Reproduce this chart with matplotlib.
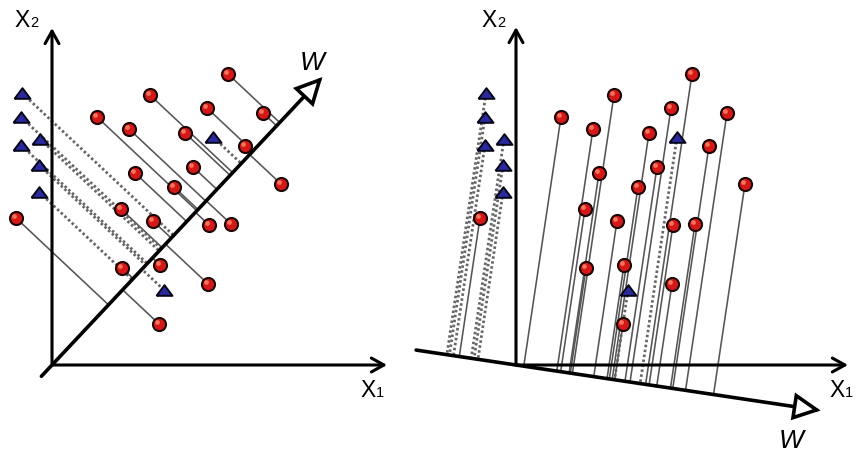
import numpy as np
import matplotlib
matplotlib.use("Agg")
import matplotlib.pyplot as plt
from matplotlib.patches import FancyArrowPatch, ArrowStyle
from matplotlib.transforms import ScaledTranslation

plt.rcParams["font.family"] = ["Liberation Sans", "DejaVu Sans"]

# Class 1 samples (red circles), coordinates (x1, x2)
circle_x1 = [-3.6, 4.5, 7.7, 9.8, 17.6, 15.5, 21.1, 13.3, 19.3, 14.1, 8.3,
             12.2, 22.9, 6.9, 10.1, 15.7, 17.9, 7.0, 10.8, 15.6, 10.7]
circle_x2 = [14.7, 24.8, 23.6, 27.0, 29.1, 25.7, 25.2, 23.2, 21.9, 19.8, 19.2,
             17.8, 18.1, 15.6, 14.4, 14.0, 14.1, 9.7, 10.0, 8.1, 4.1]

# Class 2 samples (blue triangles)
tri_x1 = [-3.0, -3.1, -3.1, -1.2, -1.3, -1.3, 11.2, 16.1]
tri_x2 = [27.2, 24.8, 22.0, 22.6, 20.0, 17.3, 7.5, 22.8]

# Projection directions W (degrees from the x1 axis)
w_angle_good = 46.8
w_angle_bad = -8.5

fig = plt.figure(figsize=(8.56, 4.54), dpi=100)
axL = fig.add_axes([0.0, 0.0, 0.5, 1.0])
axR = fig.add_axes([0.5, 0.0, 0.5, 1.0])
axL.set_xlim(-5.2, 37.6)
axL.set_ylim(-8.9, 36.5)
axR.set_xlim(-8.8, 34.0)
axR.set_ylim(-8.9, 36.5)
for ax in (axL, axR):
    ax.axis("off")

tri_marker = [(-1.5, -1.0), (1.5, -1.0), (0.0, 1.0), (-1.5, -1.0)]


def draw_panel(ax, angle, w_from, w_to, x1_end, x2_end):
    a = np.deg2rad(angle)
    u = np.array([np.cos(a), np.sin(a)])

    # perpendicular projections onto W
    for x, y in zip(circle_x1, circle_x2):
        t = x * u[0] + y * u[1]
        ax.plot([x, t * u[0]], [y, t * u[1]], color="#555555", lw=1.15,
                zorder=1, solid_capstyle="butt")
    for x, y in zip(tri_x1, tri_x2):
        t = x * u[0] + y * u[1]
        ax.plot([x, t * u[0]], [y, t * u[1]], color="#666666", lw=2.0,
                linestyle=(0, (0.9, 0.9)), zorder=1)

    # coordinate axes
    axis_style = ArrowStyle("->", head_length=9, head_width=5)
    for end in [(0, x2_end), (x1_end, 0)]:
        ax.add_patch(FancyArrowPatch((0, 0), end, arrowstyle=axis_style,
                                     mutation_scale=1, lw=2.2, color="black",
                                     shrinkA=0, shrinkB=0, zorder=3,
                                     clip_on=False))

    # direction W
    w_style = ArrowStyle("-|>", head_length=16, head_width=8)
    ax.add_patch(FancyArrowPatch((w_from * u[0], w_from * u[1]),
                                 (w_to * u[0], w_to * u[1]),
                                 arrowstyle=w_style, mutation_scale=1,
                                 lw=2.6, edgecolor="black", facecolor="white",
                                 shrinkA=0, shrinkB=0, zorder=4,
                                 clip_on=False, joinstyle="miter"))

    # samples
    ax.plot(circle_x1, circle_x2, "o", ms=9.4, mfc="#d41818", mec="#1e0303",
            mew=1.5, zorder=5, clip_on=False)
    hl = ax.transData + ScaledTranslation(-1.2 / 72, 1.2 / 72,
                                          fig.dpi_scale_trans)
    ax.plot(circle_x1, circle_x2, "o", ms=3.4, mfc="#ff8468", mec="none",
            alpha=0.85, zorder=6, transform=hl, clip_on=False)
    ax.plot(tri_x1, tri_x2, marker=tri_marker, ls="none", ms=11.5,
            mfc="#2a2a9c", mec="#050518", mew=1.4, zorder=5, clip_on=False)


draw_panel(axL, w_angle_good, -1.55, 39.5, 33.5, 33.7)
draw_panel(axR, w_angle_bad, -10.1, 30.8, 33.2, 33.8)


def axis_label(ax, x, y, sub):
    ax.text(x, y, "X", fontsize=16.5, ha="left", va="baseline",
            color="black", clip_on=False)
    ax.annotate(sub, xy=(x, y), xytext=(11.4, 0), textcoords="offset points",
                fontsize=10.5, ha="left", va="baseline", color="black",
                annotation_clip=False)


axis_label(axL, -3.8, 33.8, "2")
axis_label(axL, 30.8, -3.2, "1")
axis_label(axR, -3.5, 33.8, "2")
axis_label(axR, 31.3, -3.2, "1")

axL.text(24.8, 29.5, "W", fontsize=19, style="italic", ha="left",
         va="baseline", color="black")
axR.text(26.3, -8.3, "W", fontsize=19, style="italic", ha="left",
         va="baseline", color="black", clip_on=False)

fig.savefig("out.png", dpi=100, facecolor="white")
